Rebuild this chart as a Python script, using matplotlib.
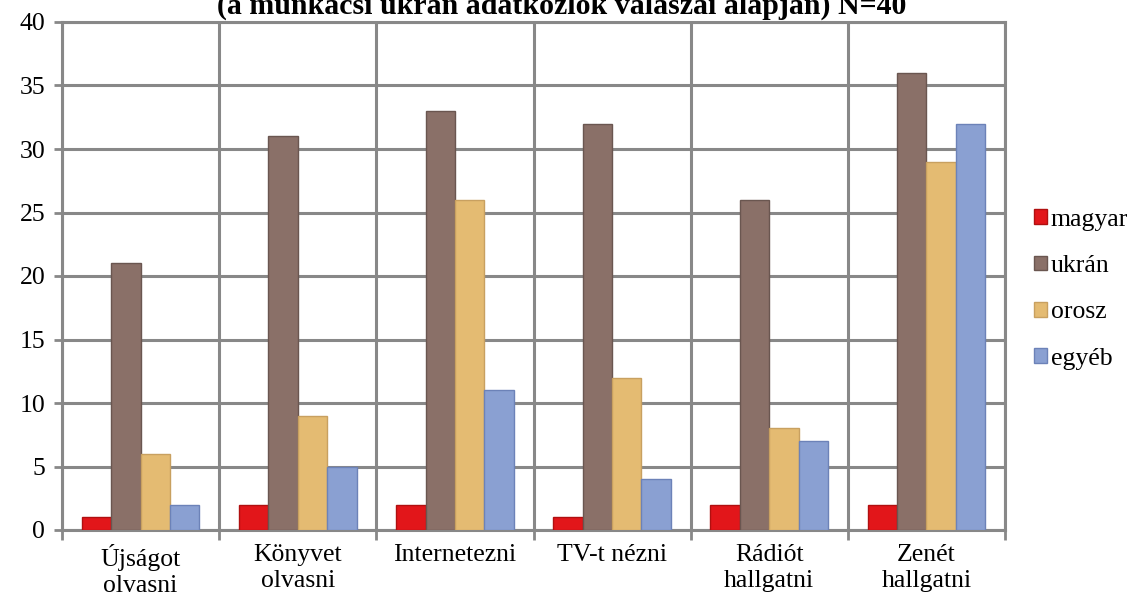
import matplotlib
matplotlib.use('Agg')
import matplotlib.pyplot as plt
import numpy as np

categories = ['Újságot\nolvasni', 'Könyvet\nolvasni', 'Internetezni',
              'TV-t nézni', 'Rádiót\nhallgatni', 'Zenét\nhallgatni']
series = ['magyar', 'ukrán', 'orosz', 'egyéb']
magyar = [1, 2, 2, 1, 2, 2]
ukran = [21, 31, 33, 32, 26, 36]
orosz = [6, 9, 26, 12, 8, 29]
egyeb = [2, 5, 11, 4, 7, 32]

colors = ['#e2161a', '#8a7068', '#e4bb72', '#8aa0d2']
edges = ['#b01010', '#6a5650', '#c8a060', '#6c82b8']

plt.rcParams['font.family'] = ['Liberation Serif', 'DejaVu Serif']

fig = plt.figure(figsize=(11.34, 6.06), dpi=100)
ax = fig.add_axes([62/1134, 1-530/606, (1005-62)/1134, (530-22)/606])

x = np.arange(len(categories))
w = 0.187
for i, vals in enumerate([magyar, ukran, orosz, egyeb]):
    ax.bar(x + (i - 1.5) * w, vals, w, color=colors[i], edgecolor=edges[i],
           linewidth=1, label=series[i], zorder=3)

ax.set_xlim(-0.5, len(categories) - 0.5)
ax.set_ylim(0, 40)
ax.set_yticks(range(0, 41, 5))
ax.set_xticks(x)
ax.set_xticklabels(categories, fontsize=18.5, linespacing=1.25)
ax.set_xticks(np.arange(-0.5, len(categories), 1), minor=True)
ax.tick_params(axis='x', which='major', length=0, pad=10)
ax.tick_params(axis='x', which='minor', length=7, color='#888888', width=2)
ax.tick_params(axis='y', length=6, color='#888888', width=2, labelsize=18.5, pad=6)
ax.grid(axis='y', color='#888888', linewidth=2.2, zorder=0)
ax.grid(axis='x', which='minor', color='#888888', linewidth=2.2, zorder=0)
for s in ax.spines.values():
    s.set_color('#888888')
    s.set_linewidth(2.2)

ax.legend(loc='center left', bbox_to_anchor=(1.02, 0.474), frameon=False,
          fontsize=18.5, handlelength=0.5, handleheight=0.5,
          handletextpad=0.15, labelspacing=0.95, borderaxespad=0)

fig.text(0.495, 1 - 14/606, '(a munkácsi ukrán adatközlők válaszai alapján) N=40',
         ha='center', va='baseline', fontsize=21.5, fontweight='bold')

plt.savefig('out.png', dpi=100)
